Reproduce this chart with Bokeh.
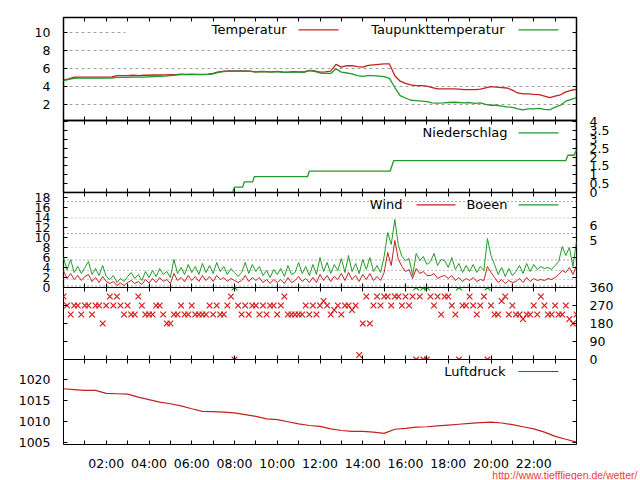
import numpy as np
from bokeh.plotting import figure
from bokeh.layouts import column
from bokeh.models import (Range1d, FixedTicker, LinearAxis, Span, Label, Arrow, Title,
                          BoxAnnotation, NumeralTickFormatter, CustomJSTickFormatter)
from bokeh.embed import file_html
from bokeh.resources import INLINE

# ---------------- data ----------------
# temperature / dew point, every 15 minutes from 00:00 to 24:00
temperatur = [
    4.75, 4.85, 5.05, 5.05, 5.05, 5.05, 5.05, 5.05, 5.05, 5.08, 5.22, 5.22,
    5.22, 5.25, 5.22, 5.25, 5.25, 5.28, 5.28, 5.30, 5.33, 5.33, 5.38, 5.35,
    5.38, 5.35, 5.35, 5.38, 5.45, 5.62, 5.70, 5.72, 5.72, 5.72, 5.72, 5.70,
    5.62, 5.68, 5.65, 5.62, 5.68, 5.62, 5.60, 5.65, 5.62, 5.62, 5.80, 5.72,
    5.60, 5.62, 5.70, 6.45, 6.15, 6.30, 6.30, 6.20, 6.15, 6.35, 6.40, 6.45,
    6.50, 6.50, 5.20, 4.60, 4.35, 4.20, 4.12, 4.10, 4.05, 3.90, 3.75, 3.75,
    3.75, 3.75, 3.72, 3.68, 3.68, 3.68, 3.72, 3.85, 4.00, 3.95, 3.90, 3.85,
    3.62, 3.30, 3.20, 3.20, 3.15, 3.12, 2.95, 2.78, 2.95, 3.10, 3.42, 3.60,
    3.70]
taupunkt = [
    4.65, 4.80, 4.92, 4.93, 4.93, 4.93, 4.93, 4.93, 4.93, 4.95, 5.02, 5.02,
    5.02, 5.05, 5.05, 5.05, 5.08, 5.10, 5.12, 5.15, 5.22, 5.28, 5.32, 5.32,
    5.33, 5.33, 5.33, 5.35, 5.40, 5.58, 5.66, 5.70, 5.70, 5.70, 5.70, 5.68,
    5.60, 5.65, 5.62, 5.60, 5.65, 5.58, 5.57, 5.62, 5.60, 5.58, 5.75, 5.68,
    5.50, 5.45, 5.45, 5.95, 5.60, 5.50, 5.40, 5.20, 5.12, 5.20, 5.20, 5.15,
    5.10, 4.90, 3.90, 3.00, 2.75, 2.50, 2.45, 2.40, 2.35, 2.20, 2.18, 2.20,
    2.25, 2.28, 2.25, 2.20, 2.25, 2.15, 2.20, 2.05, 1.95, 1.95, 1.85, 1.78,
    1.72, 1.55, 1.45, 1.55, 1.55, 1.60, 1.50, 1.45, 1.75, 1.95, 2.40, 2.60,
    2.80]
temp_hours = np.arange(len(temperatur)) / 4.0

# cumulative precipitation (mm), break points
rain_hours = [0, 7.9, 8.0, 8.38, 8.46, 8.85, 8.93, 11.42, 11.5, 15.28, 15.45, 23.5, 23.6, 23.88, 24.0]
rain_mm = [0, 0, 0.3, 0.3, 0.6, 0.6, 0.9, 0.9, 1.2, 1.2, 1.8, 1.8, 2.1, 2.1, 2.4]

# wind / gusts (m/s), every 10 minutes
boeen = [
    6.0, 3.5, 5.6, 3.0, 4.2, 2.8, 4.0,
    5.2, 2.6, 3.8, 2.4, 4.4, 2.2,
    1.6, 2.4, 1.0, 1.8, 1.2, 2.2,
    3.0, 1.8, 2.6, 1.4, 3.2, 2.0,
    3.4, 2.2, 3.8, 2.6, 3.2, 2.0,
    5.6, 2.8, 4.0, 2.6, 4.6, 3.0,
    4.2, 2.6, 4.8, 3.0, 4.4, 2.8,
    5.0, 3.2, 4.2, 2.6, 3.8, 3.0,
    2.2, 3.0, 5.0, 2.8, 4.6, 3.2,
    4.2, 2.4, 3.4, 2.0, 3.6, 2.6,
    3.8, 2.2, 4.4, 2.6, 3.0, 5.0,
    2.8, 4.2, 2.4, 4.6, 2.6, 6.0,
    3.2, 5.0, 2.8, 4.6, 3.4, 5.8,
    3.0, 6.4, 3.2, 4.8, 2.8, 5.6,
    3.6, 6.0, 3.2, 4.4, 3.0, 6.2,
    11.0, 8.6, 13.6, 8.4, 6.2, 5.4,
    5.8, 2.4, 6.8, 5.4, 6.2, 4.6,
    5.2, 6.8, 4.4, 5.6, 5.4, 4.0,
    6.0, 3.6, 4.8, 3.0, 4.4, 3.2,
    4.6, 3.0, 4.2, 3.4, 9.8, 6.4,
    4.6, 2.6, 4.0, 2.2, 3.8, 2.4,
    3.2, 4.4, 2.8, 4.8, 3.2, 4.6,
    3.6, 4.2, 3.8, 4.0, 3.6, 4.4,
    5.2, 8.2, 6.4, 8.0, 4.2, 9.2]
wind = [
    3.3, 1.8, 2.8, 1.6, 2.4, 1.4, 2.2,
    2.6, 1.2, 2.0, 1.0, 2.2, 1.2,
    0.8, 1.2, 0.4, 0.9, 0.4, 1.0,
    1.4, 0.8, 1.2, 0.6, 1.6, 0.9,
    1.8, 1.0, 2.0, 1.2, 1.6, 0.8,
    2.8, 1.4, 2.0, 1.2, 2.4, 1.4,
    2.2, 1.2, 2.4, 1.4, 2.2, 1.2,
    2.4, 1.6, 2.0, 1.2, 1.8, 1.4,
    1.0, 1.4, 2.4, 1.2, 2.0, 1.4,
    2.0, 1.0, 1.6, 0.8, 1.6, 1.0,
    1.6, 0.8, 2.0, 1.0, 1.4, 2.2,
    1.2, 1.8, 1.0, 2.0, 1.0, 2.6,
    1.4, 2.4, 1.2, 2.2, 1.6, 2.8,
    1.4, 3.0, 1.6, 2.4, 1.2, 2.6,
    1.6, 2.8, 1.4, 2.2, 1.4, 3.0,
    7.0, 4.4, 9.4, 5.6, 4.2, 3.2,
    3.6, 1.8, 3.8, 2.8, 3.2, 2.4,
    2.4, 2.8, 1.8, 2.2, 2.4, 1.8,
    2.4, 1.4, 2.0, 1.2, 1.8, 1.4,
    2.0, 1.2, 1.6, 1.4, 4.2, 3.0,
    2.0, 1.0, 1.6, 0.8, 1.4, 1.0,
    1.2, 1.8, 1.0, 2.0, 1.2, 1.8,
    1.4, 1.6, 1.4, 1.8, 1.6, 2.0,
    2.6, 3.4, 3.0, 4.0, 2.6, 4.4]
richtung = [
    315, 270, 225, 270, 270, 225, 270,
    270, 225, 270, 270, 180, 270,
    315, 270, 315, 270, 225, 270,
    225, 225, 315, 270, 225, 225,
    225, 270, 270, 225, 180, 180,
    225, 225, 270, 225, 225, 270,
    225, 225, 225, 225, 270, 225,
    270, 225, 225, 270, 315, 0,
    270, 225, 270, 225, 270, 270,
    225, 270, 225, 270, 270, 225,
    270, 315, 225, 225, 225, 225,
    225, 270, 225, 270, 225, 270,
    292.5, 270, 225, 247.5, 270, 225,
    270, 270, 247.5, 270, 22.5, 180,
    315, 180, 270, 315, 270, 315,
    315, 270, 315, 315, 270, 315,
    270, 315, 0, 315, 0, 0,
    315, 270, 315, 225, 315, 315,
    270, 225, 0, 270, 270, 315,
    270, 225, 270, 315, 0, 270,
    225, 225, 292.5, 315, 225, 270,
    225, 225, 202.5, 225, 225, 270,
    225, 315, 270, 225, 225, 270,
    225, 225, 270, 202.5, 180, 225]
wind_hours = np.arange(len(wind)) / 6.0
north_hours = [h for h, d in zip(wind_hours, richtung) if d == 0]
north_top = [360 for _ in north_hours]

# pressure (hPa), every 30 minutes
luftdruck = [
    1017.8, 1017.6, 1017.4, 1017.4, 1016.7, 1016.6, 1016.5, 1015.8, 1015.2, 1014.6,
    1014.2, 1013.7, 1013.0, 1012.4, 1012.3, 1012.2, 1012.0, 1011.6, 1011.2, 1010.6,
    1010.4, 1009.9, 1009.4, 1009.0, 1008.8, 1008.2, 1007.8, 1007.6, 1007.6, 1007.4,
    1007.1, 1008.1, 1008.3, 1008.6, 1008.7, 1008.9, 1009.1, 1009.3, 1009.5, 1009.7,
    1009.8, 1009.6, 1009.2, 1008.7, 1008.2, 1007.4, 1006.4, 1005.7, 1005.0]
press_hours = np.arange(len(luftdruck)) / 2.0

# axis tick values
hour_ticks = [2, 4, 6, 8, 10, 12, 14, 16, 18, 20, 22]
hour_minor = [1, 3, 5, 7, 9, 11, 13, 15, 17, 19, 21, 23]
temp_ticks = [2, 4, 6, 8, 10]
rain_ticks = [0, 0.5, 1, 1.5, 2, 2.5, 3, 3.5, 4]
wind_ticks = [0, 2, 4, 6, 8, 10, 12, 14, 16, 18]
beaufort_limits = [0.3, 1.6, 3.4, 5.5, 8.0, 10.8, 13.9, 17.2]
beaufort_colors = ["#444444", "#999999", "#6a8f6a", "#7a4a4a", "#8fb4cc", "#555555", "#b0a060", "#555555"]
beaufort_label_pos = [9.4, 12.35]
dir_ticks = [0, 90, 180, 270, 360]
press_ticks = [1005, 1010, 1015, 1020]

# ---------------- style ----------------
FONT = "DejaVu Sans"
TICK_FS = "12.5px"
LEG_FS = "13px"
RED = "#c42020"
GREEN = "#22992a"
DIRRED = "#d81818"
FRAME_W = 513
LEFT = 63
RIGHT = 64
PAD = 8          # spare room above/below each frame for overhanging labels
xr = Range1d(0, 24)


def panel(h, yr, top=PAD, bottom=PAD, outline=1.2, overlap=True):
    p = figure(frame_width=FRAME_W, frame_height=h, x_range=xr, y_range=yr,
               output_backend="svg", toolbar_location=None,
               min_border_left=LEFT, min_border_right=RIGHT,
               min_border_top=top, min_border_bottom=bottom,
               x_axis_location=None, y_axis_location=None)
    p.outline_line_color = "black"
    p.outline_line_width = outline
    p.background_fill_color = None
    p.border_fill_color = None
    p.xgrid.visible = False
    p.ygrid.visible = False
    if overlap:
        p.margin = (-2 * PAD, 0, 0, 0)
    return p


def style_axis(ax, labels):
    ax.axis_line_color = None
    ax.major_tick_in = 4
    ax.major_tick_out = 0
    ax.minor_tick_in = 4
    ax.minor_tick_out = 0
    ax.major_tick_line_color = "black"
    ax.minor_tick_line_color = "black"
    if labels:
        ax.major_label_text_font = FONT
        ax.major_label_text_font_size = TICK_FS
        ax.major_label_text_color = "black"
        ax.major_label_standoff = 13
    else:
        ax.major_label_text_font_size = "1px"
        ax.major_label_text_color = None
        ax.major_label_standoff = 0
    return ax


def x_axes(p, bottom_labels=False):
    for place in ("above", "below"):
        lab = bottom_labels and place == "below"
        ax = LinearAxis(ticker=FixedTicker(ticks=hour_ticks, minor_ticks=hour_minor))
        style_axis(ax, lab)
        if lab:
            ax.formatter = CustomJSTickFormatter(code="return (tick < 10 ? '0' : '') + tick + ':00'")
            ax.major_label_standoff = 11
        p.add_layout(ax, place)


def y_axis(p, place, ticks, labels, formatter=None, minor=None):
    ax = LinearAxis(ticker=FixedTicker(ticks=ticks, minor_ticks=minor or []))
    style_axis(ax, labels)
    if formatter is not None:
        ax.formatter = formatter
    p.add_layout(ax, place)
    return ax


def legend(p, text, right_x, y, color, x0=455, x1=495):
    p.add_layout(Label(x=right_x, y=y, x_units="screen", y_units="screen", text=text,
                       text_align="right", text_baseline="middle", text_font=FONT,
                       text_font_size=LEG_FS, text_color="black"))
    p.add_layout(Arrow(end=None, x_start=x0, y_start=y, x_end=x1, y_end=y,
                       start_units="screen", end_units="screen",
                       line_color=color, line_width=1.2))


# ---- panel 1: temperature ----
p1 = panel(103, Range1d(0.27, 11.61), top=17, outline=1.5, overlap=False)
p1.ygrid.visible = True
p1.ygrid.ticker = FixedTicker(ticks=temp_ticks)
p1.ygrid.grid_line_color = "#a0a0a0"
p1.ygrid.grid_line_dash = "3 3"
p1.add_layout(BoxAnnotation(left=62, right=508, bottom=84.7, top=96.7,
                            left_units="screen", right_units="screen",
                            top_units="screen", bottom_units="screen",
                            fill_color="white", fill_alpha=1, line_color=None, level="underlay"))
p1.line(temp_hours, temperatur, line_color=RED, line_width=1.3)
p1.line(temp_hours, taupunkt, line_color=GREEN, line_width=1.3)
x_axes(p1)
y_axis(p1, "left", temp_ticks, True)
y_axis(p1, "right", temp_ticks, False)
legend(p1, "Temperatur", 223, 90.7, RED, 235, 275)
legend(p1, "Taupunkttemperatur", 441, 90.7, GREEN)

# ---- panel 2: precipitation ----
p2 = panel(72, Range1d(0, 4.06), outline=1.5)
p2.line(rain_hours, rain_mm, line_color=GREEN, line_width=1.3)
x_axes(p2)
y_axis(p2, "left", rain_ticks, False)
y_axis(p2, "right", rain_ticks, True, NumeralTickFormatter(format="0.[0]"))
legend(p2, "Niederschlag", 444, 59.7, GREEN)

# ---- panel 3: wind ----
p3 = panel(95, Range1d(0, 19), outline=1.2)
for lim, col in zip(beaufort_limits, beaufort_colors):
    p3.add_layout(Span(location=lim, dimension="width", line_color=col,
                       line_dash="1 3", line_width=1, level="underlay"))
p3.line(wind_hours, boeen, line_color=GREEN, line_width=1)
p3.line(wind_hours, wind, line_color=RED, line_width=1)
x_axes(p3)
y_axis(p3, "left", wind_ticks, True)
rax = y_axis(p3, "right", beaufort_label_pos, True,
             CustomJSTickFormatter(code="return tick > 11 ? '6' : '5'"), minor=wind_ticks)
rax.major_tick_in = 0
legend(p3, "Wind", 339, 82.7, RED, 353, 392)
legend(p3, "Boeen", 444, 82.7, GREEN)

# ---- panel 4: wind direction ----
p4 = panel(72, Range1d(0, 360), outline=1.0)
p4.scatter(wind_hours, richtung, marker="x", size=8, line_color=DIRRED, line_width=1.2)
p4.scatter(north_hours, north_top, marker="x", size=8, line_color=GREEN, line_width=1.2)
x_axes(p4)
y_axis(p4, "left", [90, 180, 270], False)
y_axis(p4, "right", dir_ticks, True)

# ---- panel 5: pressure ----
p5 = panel(85, Range1d(1004.45, 1024.8), bottom=36, outline=1.0)
p5.line(press_hours, luftdruck, line_color=RED, line_width=1.2)
x_axes(p5, bottom_labels=True)
y_axis(p5, "left", press_ticks, True)
y_axis(p5, "right", press_ticks, False)
legend(p5, "Luftdruck", 442, 73, RED)
p5.add_layout(Title(text="http://www.tieffliegen.de/wetter/", align="right", offset=-61,
                    vertical_align="top", standoff=-10, text_font="Liberation Sans",
                    text_font_size="10.5px", text_font_style="normal",
                    text_color="#f03a3a"), "below")

layout = column(p1, p2, p3, p4, p5, spacing=0)
open("out.html", "w").write(file_html(layout, INLINE))
